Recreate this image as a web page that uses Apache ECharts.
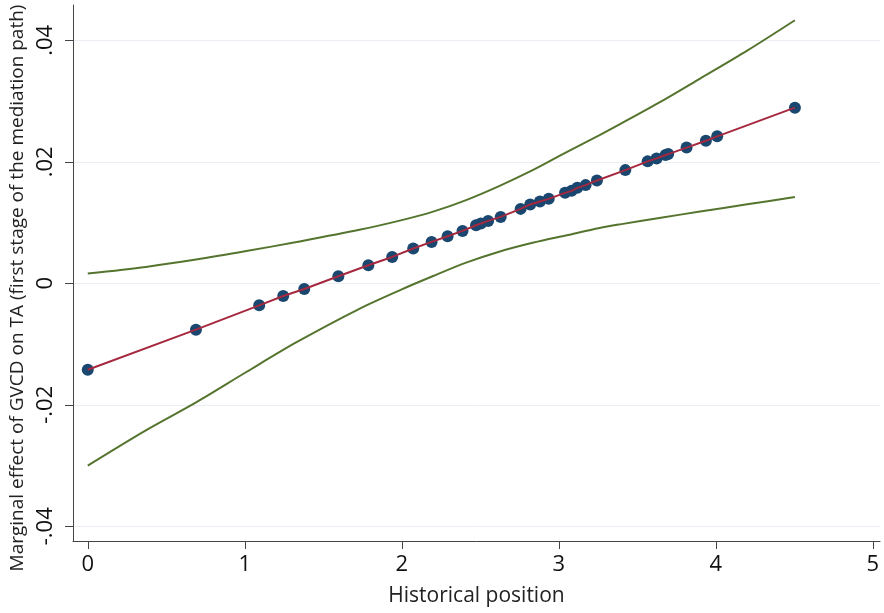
<!DOCTYPE html>
<html>
<head>
<meta charset="utf-8">
<script src="https://cdn.jsdelivr.net/npm/echarts@6/dist/echarts.min.js"></script>
<style>
  html, body { margin: 0; padding: 0; background: #fff; }
  #main { width: 884px; height: 613px; }
</style>
</head>
<body>
<div id="main"></div>
<script>
// historical position (x) and marginal effect at each observed value
var posX = [0, 0.689, 1.092, 1.245, 1.379, 1.596, 1.787, 1.939, 2.073, 2.19, 2.292, 2.387, 2.473, 2.504, 2.55, 2.63,
    2.757, 2.818, 2.88, 2.936, 3.04, 3.082, 3.118, 3.171, 3.243, 3.424, 3.566, 3.623, 3.68, 3.697, 3.814, 3.937, 4.009, 4.504];
var effect = [-0.01423, -0.00763, -0.00363, -0.00209, -0.00094, 0.00115, 0.00297, 0.00434, 0.00572, 0.00681, 0.00775,
    0.00862, 0.00956, 0.00984, 0.01027, 0.01093, 0.01225, 0.01298, 0.01347, 0.0139, 0.01489, 0.01522, 0.01571, 0.01616,
    0.01693, 0.01863, 0.02007, 0.02056, 0.02111, 0.02127, 0.02234, 0.02347, 0.02419, 0.02891];

// confidence band
var bandX = [0, 0.37, 0.69, 1.01, 1.33, 1.73, 2.0, 2.2, 2.41, 2.62, 2.84, 3.05, 3.26, 3.39, 3.65, 3.9, 4.2, 4.504];
var upper = [0.0016, 0.0027, 0.0039, 0.0053, 0.0068, 0.0088, 0.0104, 0.0118, 0.0137, 0.0160, 0.0187, 0.0216, 0.0244,
    0.0262, 0.0299, 0.0337, 0.0383, 0.0433];
var lower = [-0.0300, -0.0242, -0.0196, -0.0146, -0.0097, -0.0042, -0.0010, 0.0012, 0.0034, 0.0052, 0.0067, 0.0079,
    0.0091, 0.0097, 0.0108, 0.0118, 0.0130, 0.0142];

var xTicks = [0, 1, 2, 3, 4, 5];
var yTicks = [-0.04, -0.02, 0, 0.02, 0.04];

function pairs(xs, ys) {
    return xs.map(function (x, i) { return [x, ys[i]]; });
}

function stataNum(v) {
    if (Math.abs(v) < 1e-9) return '0';
    var s = Math.abs(v).toFixed(2).replace(/^0/, '');
    return (v < 0 ? '-' : '') + s;
}

var myChart = echarts.init(document.getElementById('main'));

var font = '"Open Sans", "DejaVu Sans", sans-serif';
var green = '#55752f';

option = {
    animation: false,
    backgroundColor: '#fff',
    grid: {
        left: 73,
        right: 4,
        top: 5,
        bottom: 72,
        outerBoundsMode: 'none'
    },
    xAxis: {
        type: 'value',
        min: -0.094,
        max: 5.046,
        name: 'Historical position',
        nameLocation: 'middle',
        nameGap: 45,
        nameTextStyle: { color: '#222', fontSize: 21, fontFamily: font },
        axisLine: { onZero: false, lineStyle: { color: '#444', width: 1 } },
        axisTick: { show: true, length: 8, customValues: xTicks, lineStyle: { color: '#444' } },
        axisLabel: {
            customValues: xTicks,
            margin: 13,
            color: '#111',
            fontSize: 22,
            fontFamily: font
        },
        splitLine: { show: false }
    },
    yAxis: {
        type: 'value',
        min: -0.04242,
        max: 0.04581,
        name: 'Marginal effect of GVCD on TA (first stage of the mediation path)',
        nameLocation: 'middle',
        nameGap: 44,
        nameTextStyle: { color: '#222', fontSize: 19, fontFamily: font, padding: [0, 30, 0, 0] },
        axisLine: { show: true, onZero: false, lineStyle: { color: '#444', width: 1 } },
        axisTick: { show: true, length: 8, customValues: yTicks, lineStyle: { color: '#444' } },
        axisLabel: {
            customValues: yTicks,
            rotate: 90,
            margin: 16,
            color: '#111',
            fontSize: 22,
            fontFamily: font,
            formatter: stataNum
        },
        splitLine: { show: true, lineStyle: { color: '#eceef6', width: 1 } }
    },
    series: [
        {
            name: 'upper',
            type: 'line',
            data: pairs(bandX, upper),
            smooth: 0.3,
            symbol: 'none',
            lineStyle: { color: green, width: 2 }
        },
        {
            name: 'lower',
            type: 'line',
            data: pairs(bandX, lower),
            smooth: 0.3,
            symbol: 'none',
            lineStyle: { color: green, width: 2 }
        },
        {
            name: 'points',
            type: 'scatter',
            data: pairs(posX, effect),
            symbol: 'circle',
            symbolSize: 12,
            itemStyle: { color: '#1a476f', opacity: 1 }
        },
        {
            name: 'fit',
            type: 'line',
            data: pairs(posX, effect),
            symbol: 'none',
            lineStyle: { color: '#a6283f', width: 2 }
        }
    ]
};

myChart.setOption(option);
</script>
</body>
</html>
